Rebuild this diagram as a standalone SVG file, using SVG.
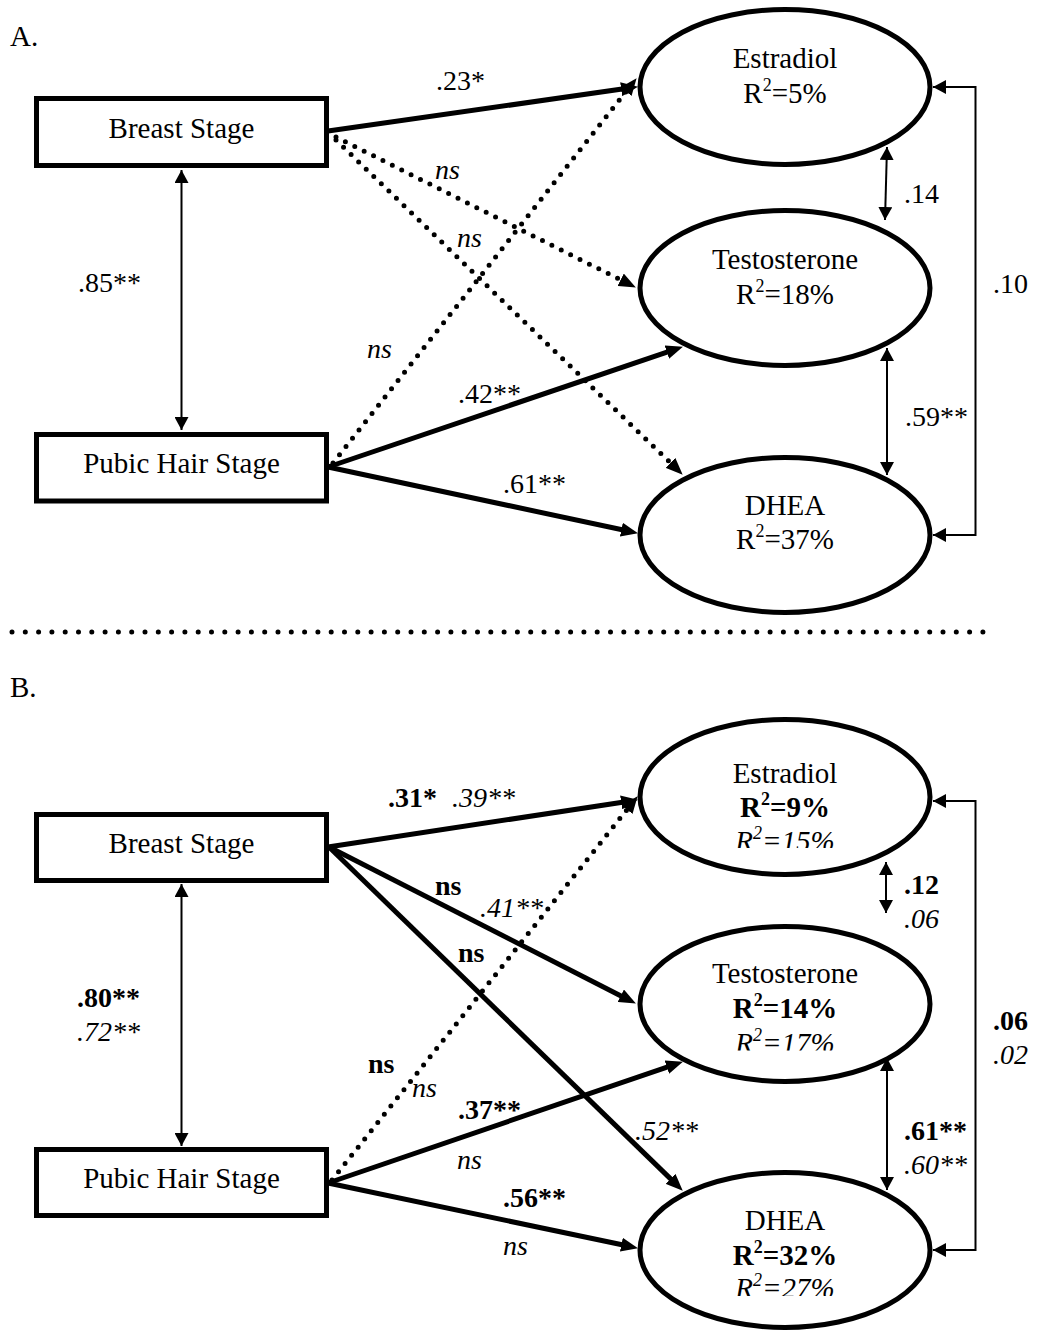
<svg xmlns="http://www.w3.org/2000/svg" width="1039" height="1330" viewBox="0 0 1039 1330">
<style>
text{font-family:"Liberation Serif","Times New Roman",serif;fill:#000}
.node{font-size:29px}
.lbl{font-size:28px}
.b{font-weight:bold}
.i{font-style:italic}
.box{fill:#fff;stroke:#000;stroke-width:5}
.ell{fill:#fff;stroke:#000;stroke-width:5}
.thick{fill:none;stroke:#000;stroke-width:5}
.dot{fill:none;stroke:#000;stroke-width:5;stroke-linecap:round;stroke-dasharray:0 10.5}
.thin{fill:none;stroke:#000;stroke-width:2}
</style>
<defs>
<marker id="ah" viewBox="0 0 17 14" refX="8" refY="7" markerWidth="17" markerHeight="14" markerUnits="userSpaceOnUse" orient="auto">
<path d="M0,0 L17,7 L0,14 z" fill="#000"/>
</marker>
<marker id="th" viewBox="0 0 13 14" refX="13" refY="7" markerWidth="13" markerHeight="14" markerUnits="userSpaceOnUse" orient="auto-start-reverse">
<path d="M0,0 L13,7 L0,14 z" fill="#000"/>
</marker>
<clipPath id="cE"><rect x="600" y="700" width="400" height="148"/></clipPath>
<clipPath id="cT"><rect x="600" y="900" width="400" height="150.5"/></clipPath>
<clipPath id="cD"><rect x="600" y="1150" width="400" height="146"/></clipPath>
</defs>

<text class="node" x="10" y="46">A.</text>
<text class="node" x="10" y="697">B.</text>

<line x1="12" y1="632" x2="990" y2="632" stroke="#000" stroke-width="5" stroke-linecap="round" stroke-dasharray="0 13.3"/>

<!-- Panel A nodes -->
<g id="A-breast">
<rect class="box" x="36.5" y="98.5" width="290" height="67"/>
<text class="node" x="181.5" y="138" text-anchor="middle">Breast Stage</text>
</g>
<g id="A-pubic">
<rect class="box" x="36.5" y="434.5" width="290" height="66.5"/>
<text class="node" x="181.5" y="473" text-anchor="middle">Pubic Hair Stage</text>
</g>
<g id="A-estradiol">
<ellipse class="ell" cx="785" cy="87" rx="145" ry="77.5"/>
<text class="node" x="785" y="68" text-anchor="middle">Estradiol</text>
<text class="node" x="785" y="103" text-anchor="middle">R<tspan font-size="18" dy="-12">2</tspan><tspan dy="12">=5%</tspan></text>
</g>
<g id="A-testosterone">
<ellipse class="ell" cx="785" cy="288" rx="145" ry="77.5"/>
<text class="node" x="785" y="269" text-anchor="middle">Testosterone</text>
<text class="node" x="785" y="304" text-anchor="middle">R<tspan font-size="18" dy="-12">2</tspan><tspan dy="12">=18%</tspan></text>
</g>
<g id="A-dhea">
<ellipse class="ell" cx="785" cy="535" rx="145" ry="77.5"/>
<text class="node" x="785" y="515" text-anchor="middle">DHEA</text>
<text class="node" x="785" y="549" text-anchor="middle">R<tspan font-size="18" dy="-12">2</tspan><tspan dy="12">=37%</tspan></text>
</g>

<!-- Panel B nodes -->
<g id="B-breast">
<rect class="box" x="36.5" y="814.5" width="290" height="66"/>
<text class="node" x="181.5" y="853" text-anchor="middle">Breast Stage</text>
</g>
<g id="B-pubic">
<rect class="box" x="36.5" y="1149.5" width="290" height="66"/>
<text class="node" x="181.5" y="1188" text-anchor="middle">Pubic Hair Stage</text>
</g>
<g id="B-estradiol">
<ellipse class="ell" cx="785" cy="797" rx="145" ry="77.5"/>
<text class="node" x="785" y="783" text-anchor="middle">Estradiol</text>
<text class="node b" x="785" y="817" text-anchor="middle">R<tspan font-size="18" dy="-12">2</tspan><tspan dy="12">=9%</tspan></text>
<text class="node i" x="785" y="851" text-anchor="middle" clip-path="url(#cE)">R<tspan font-size="18" dy="-12">2</tspan><tspan dy="12">=15%</tspan></text>
</g>
<g id="B-testosterone">
<ellipse class="ell" cx="785" cy="1004" rx="145" ry="77.5"/>
<text class="node" x="785" y="983" text-anchor="middle">Testosterone</text>
<text class="node b" x="785" y="1018" text-anchor="middle">R<tspan font-size="18" dy="-12">2</tspan><tspan dy="12">=14%</tspan></text>
<text class="node i" x="785" y="1053" text-anchor="middle" clip-path="url(#cT)">R<tspan font-size="18" dy="-12">2</tspan><tspan dy="12">=17%</tspan></text>
</g>
<g id="B-dhea">
<ellipse class="ell" cx="785" cy="1250" rx="145" ry="77.5"/>
<text class="node" x="785" y="1230" text-anchor="middle">DHEA</text>
<text class="node b" x="785" y="1265" text-anchor="middle">R<tspan font-size="18" dy="-12">2</tspan><tspan dy="12">=32%</tspan></text>
<text class="node i" x="785" y="1298" text-anchor="middle" clip-path="url(#cD)">R<tspan font-size="18" dy="-12">2</tspan><tspan dy="12">=27%</tspan></text>
</g>

<g id="connectors">
<!-- Panel A -->
<line class="thick" x1="328" y1="131" x2="629.1" y2="88.1" marker-end="url(#ah)"/>
<line class="dot" x1="336" y1="137" x2="627.8" y2="283.4" marker-end="url(#ah)"/>
<line class="dot" x1="336" y1="140" x2="676.2" y2="468.4" marker-end="url(#ah)"/>
<line class="dot" x1="333" y1="463" x2="631" y2="85.3" marker-end="url(#ah)"/>
<line class="thick" x1="328" y1="467" x2="674.4" y2="349.6" marker-end="url(#ah)"/>
<line class="thick" x1="328" y1="467" x2="629.2" y2="531.3" marker-end="url(#ah)"/>
<line class="thin" x1="181.5" y1="170" x2="181.5" y2="430" marker-start="url(#th)" marker-end="url(#th)"/>
<line class="thin" x1="887" y1="147" x2="885" y2="220" marker-start="url(#th)" marker-end="url(#th)"/>
<line class="thin" x1="887" y1="348" x2="887" y2="475" marker-start="url(#th)" marker-end="url(#th)"/>
<path class="thin" d="M933,87 H975.5 V535 H933" marker-start="url(#th)" marker-end="url(#th)"/>
<!-- Panel B -->
<line class="thick" x1="328" y1="847" x2="629.1" y2="801.2" marker-end="url(#ah)"/>
<line class="thick" x1="329" y1="847" x2="627.9" y2="999.4" marker-end="url(#ah)"/>
<line class="thick" x1="329" y1="847" x2="676.3" y2="1184.4" marker-end="url(#ah)"/>
<line class="dot" x1="332" y1="1180" x2="632" y2="803.3" marker-end="url(#ah)"/>
<line class="thick" x1="328" y1="1183" x2="674.4" y2="1064.6" marker-end="url(#ah)"/>
<line class="thick" x1="328" y1="1183" x2="629.2" y2="1246.3" marker-end="url(#ah)"/>
<line class="thin" x1="181.5" y1="884" x2="181.5" y2="1146" marker-start="url(#th)" marker-end="url(#th)"/>
<line class="thin" x1="886" y1="862" x2="886" y2="913" marker-start="url(#th)" marker-end="url(#th)"/>
<line class="thin" x1="887" y1="1058" x2="887" y2="1190" marker-start="url(#th)" marker-end="url(#th)"/>
<path class="thin" d="M933,801 H975.5 V1250 H933" marker-start="url(#th)" marker-end="url(#th)"/>
</g>

<g id="labels">
<!-- Panel A -->
<text class="lbl" x="436" y="90">.23*</text>
<text class="lbl i" x="435" y="179">ns</text>
<text class="lbl i" x="457" y="247">ns</text>
<text class="lbl i" x="367" y="358">ns</text>
<text class="lbl" x="458" y="403">.42**</text>
<text class="lbl" x="503" y="493">.61**</text>
<text class="lbl" x="78" y="292">.85**</text>
<text class="lbl" x="904" y="203">.14</text>
<text class="lbl" x="905" y="426">.59**</text>
<text class="lbl" x="993" y="293">.10</text>
<!-- Panel B -->
<text class="lbl b" x="388" y="807">.31*</text>
<text class="lbl i" x="452" y="807">.39**</text>
<text class="lbl b" x="435" y="895">ns</text>
<text class="lbl i" x="480" y="917">.41**</text>
<text class="lbl b" x="458" y="962">ns</text>
<text class="lbl b" x="368" y="1073">ns</text>
<text class="lbl i" x="412" y="1097">ns</text>
<text class="lbl b" x="458" y="1119">.37**</text>
<text class="lbl i" x="457" y="1169">ns</text>
<text class="lbl b" x="503" y="1207">.56**</text>
<text class="lbl i" x="503" y="1255">ns</text>
<text class="lbl i" x="635" y="1140">.52**</text>
<text class="lbl b" x="77" y="1007">.80**</text>
<text class="lbl i" x="77" y="1041">.72**</text>
<text class="lbl b" x="904" y="894">.12</text>
<text class="lbl i" x="904" y="928">.06</text>
<text class="lbl b" x="904" y="1140">.61**</text>
<text class="lbl i" x="904" y="1174">.60**</text>
<text class="lbl b" x="993" y="1030">.06</text>
<text class="lbl i" x="993" y="1064">.02</text>
</g>
</svg>
